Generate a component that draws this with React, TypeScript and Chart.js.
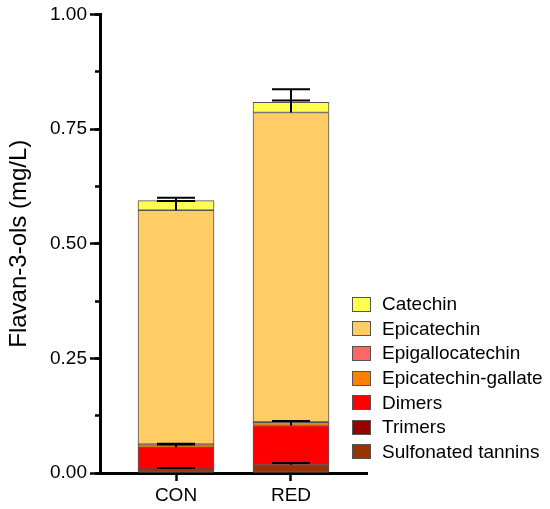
import { useEffect, useRef } from "react";
import { Chart, registerables } from "chart.js";

Chart.register(...registerables);

const FONT = "'Liberation Sans', Arial, sans-serif";

const groups = ["CON", "RED"];
// stacked bottom -> top
const compounds = [
  "Sulfonated tannins",
  "Trimers",
  "Dimers",
  "Epicatechin-gallate",
  "Epigallocatechin",
  "Epicatechin",
  "Catechin",
];
const colours = ["#993300", "#990000", "#FF0000", "#FF8000", "#FF6666", "#FFCC66", "#FFFF4D"];

const sulfonated = [0.009, 0.018];
const trimers = [0.001, 0.001];
const dimers = [0.046, 0.0845];
const epicatechinGallate = [0.006, 0.007];
const epigallocatechin = [0.001, 0.001];
const epicatechin = [0.51, 0.6745];
const catechin = [0.021, 0.022];

const sulfonatedErr = [0.002, 0.004];
const trimersErr = [0, 0];
const dimersErr = [0.006, 0.01];
const epicatechinGallateErr = [0.002, 0];
const epigallocatechinErr = [0, 0];
const epicatechinErr = [0.02, 0.026];
const catechinErr = [0.006, 0.029];

const series = [sulfonated, trimers, dimers, epicatechinGallate, epigallocatechin, epicatechin, catechin];
const errors = [sulfonatedErr, trimersErr, dimersErr, epicatechinGallateErr, epigallocatechinErr, epicatechinErr, catechinErr];

const yTitle = "Flavan-3-ols (mg/L)";

// draws the upward error bar on top of each stacked segment
const errorBars = {
  id: "errorBars",
  afterDatasetsDraw(chart: any) {
    const { ctx } = chart;
    const y = chart.scales.y;
    ctx.save();
    ctx.strokeStyle = "#000";
    ctx.lineWidth = 2;
    series.forEach((_, i) => {
      const meta = chart.getDatasetMeta(i);
      meta.data.forEach((bar: any, j: number) => {
        const err = errors[i][j];
        if (!err) return;
        const top = series.slice(0, i + 1).reduce((s, arr) => s + arr[j], 0);
        const y0 = y.getPixelForValue(top);
        const y1 = y.getPixelForValue(top + err);
        const half = bar.width / 4;
        ctx.beginPath();
        ctx.moveTo(bar.x, y0);
        ctx.lineTo(bar.x, y1);
        ctx.moveTo(bar.x - half, y1);
        ctx.lineTo(bar.x + half, y1);
        ctx.stroke();
      });
    });
    ctx.restore();
  },
};

export default function App() {
  const canvasRef = useRef<HTMLCanvasElement | null>(null);

  useEffect(() => {
    if (!canvasRef.current) return;
    const chart = new Chart(canvasRef.current, {
      type: "bar",
      data: {
        datasets: compounds.map((name, i) => ({
          label: name,
          data: series[i].map((v, j) => ({ x: j, y: v })),
          backgroundColor: colours[i],
          borderColor: "#555",
          borderWidth: 1,
          borderSkipped: false,
          barThickness: 76,
          yAxisID: "y",
        })),
      },
      options: {
        responsive: false,
        animation: false,
        layout: { padding: { top: 14, right: 183, bottom: 0, left: 0 } },
        plugins: {
          legend: { display: false },
          tooltip: { enabled: false },
        },
        scales: {
          x: {
            type: "linear",
            stacked: true,
            offset: false,
            min: -0.661,
            max: 1.661,
            afterBuildTicks: (s: any) => {
              s.ticks = groups.map((_, i) => ({ value: i }));
            },
            afterFit: (s: any) => {
              s.height = 36;
            },
            ticks: {
              callback: (v: any) => groups[v] ?? "",
              color: "#000",
              font: { family: FONT, size: 19 },
              padding: 3,
              maxRotation: 0,
            },
            grid: {
              offset: false,
              drawOnChartArea: false,
              tickLength: 8,
              tickWidth: 2.5,
              tickColor: "#000",
            },
            border: { color: "#000", width: 3 },
          },
          y: {
            type: "linear",
            stacked: true,
            weight: 1,
            min: 0,
            max: 1,
            afterFit: (s: any) => {
              s.width = 100;
            },
            ticks: {
              stepSize: 0.25,
              callback: (v: any) => Number(v).toFixed(2),
              color: "#000",
              font: { family: FONT, size: 19 },
              padding: 3,
            },
            grid: {
              drawOnChartArea: false,
              tickLength: 10,
              tickWidth: 2.5,
              tickColor: "#000",
            },
            border: { color: "#000", width: 3 },
            title: {
              display: true,
              text: yTitle,
              color: "#000",
              font: { family: FONT, size: 24 },
              padding: { top: 5, bottom: 0 },
            },
          },
          // minor ticks only
          y2: {
            type: "linear",
            position: "left",
            weight: 0,
            min: 0,
            max: 1,
            afterFit: (s: any) => {
              s.width = 0;
            },
            ticks: { stepSize: 0.125, display: false },
            grid: {
              drawOnChartArea: false,
              tickLength: 5,
              tickWidth: 2.5,
              tickColor: "#000",
            },
            border: { display: false },
          },
        },
      },
      plugins: [errorBars],
    });
    return () => chart.destroy();
  }, []);

  const legendItems = compounds.map((name, i) => ({ name, colour: colours[i] })).reverse();

  return (
    <div style={{ position: "fixed", left: 0, top: 0, width: 550, height: 509, background: "#fff" }}>
      <canvas ref={canvasRef} width={550} height={509} />
      <div style={{ position: "absolute", left: 352, top: 292, fontFamily: FONT, fontSize: 19, color: "#000" }}>
        {legendItems.map((it) => (
          <div key={it.name} style={{ display: "flex", alignItems: "center", height: 24.6, whiteSpace: "nowrap" }}>
            <span
              style={{
                display: "inline-block",
                width: 19,
                height: 15,
                boxSizing: "border-box",
                border: "1px solid #555",
                background: it.colour,
                marginRight: 11,
              }}
            />
            <span>{it.name}</span>
          </div>
        ))}
      </div>
    </div>
  );
}
